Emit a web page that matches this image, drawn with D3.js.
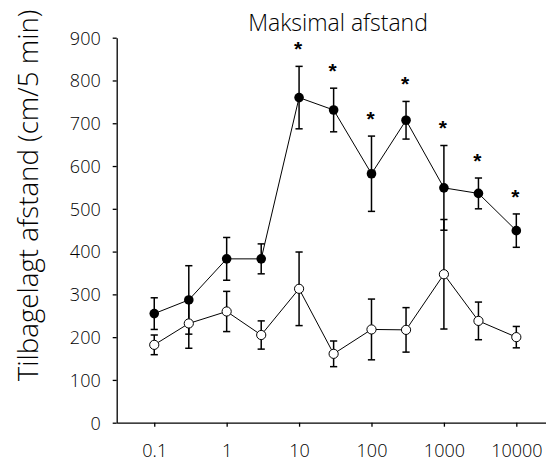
<!DOCTYPE html>
<html>
<head>
<meta charset="utf-8">
<script src="https://cdn.jsdelivr.net/npm/d3@7"></script>
<style>
  html, body { margin: 0; padding: 0; background: #fff; }
  svg { display: block; }
  text { font-family: "Open Sans", sans-serif; font-weight: 300; fill: #000; }
</style>
</head>
<body>
<svg id="chart" width="546" height="461"></svg>
<script>
// Dose levels (log scale)
const doses = [0.1, 0.3, 1, 3, 10, 30, 100, 300, 1000, 3000, 10000];

// Filled-circle series: mean and error
const filledMean = [255, 287, 383, 383, 760, 731, 582, 707, 549, 536, 449];
const filledErr  = [37, 80, 50, 35, 73, 51, 88, 44, 99, 36, 39];

// Open-circle series: mean and error
const openMean = [182, 232, 260, 205, 313, 161, 218, 217, 347, 238, 200];
const openErr  = [23, 58, 47, 33, 86, 30, 71, 52, 128, 44, 25];

// Significance markers (on the filled series)
const starred = [false, false, false, false, true, true, true, true, true, true, true];

const xTicks = [0.1, 1, 10, 100, 1000, 10000];
const yTicks = [0, 100, 200, 300, 400, 500, 600, 700, 800, 900];

const title = "Maksimal afstand";
const yLabel = "Tilbagelagt afstand (cm/5 min)";

const svg = d3.select("#chart");

const x = d3.scaleLog().domain([0.0303, 25700]).range([116.7, 546]);
const y = d3.scaleLinear().domain([0, 900]).range([422.7, 37.7]);

// Axes
const xAxis = d3.axisBottom(x).tickValues(xTicks).tickSize(4).tickSizeOuter(0)
  .tickFormat(d => String(d));
const yAxis = d3.axisLeft(y).tickValues(yTicks).tickSize(4).tickSizeOuter(0)
  .tickFormat(d => String(d));

const gx = svg.append("g").attr("transform", `translate(0,${y(0)})`).call(xAxis);
const gy = svg.append("g").attr("transform", `translate(${x.range()[0]},0)`).call(yAxis);

[gx, gy].forEach(g => {
  g.selectAll("path.domain").attr("stroke", "#000").attr("stroke-width", 1.3);
  g.selectAll(".tick line").attr("stroke", "#000").attr("stroke-width", 1.3);
  g.selectAll(".tick text")
    .style("font-family", "'Open Sans', sans-serif")
    .style("font-weight", 300)
    .style("font-size", "18px")
    .attr("fill", "#000");
});
gx.selectAll(".tick text").attr("dy", null).attr("y", 34);
gy.selectAll(".tick text").attr("x", -16).attr("dy", "0.35em");

// Title
svg.append("text")
  .attr("x", 338).attr("y", 31)
  .attr("text-anchor", "middle")
  .style("font-size", "23px")
  .text(title);

// Y label
svg.append("text")
  .attr("transform", `translate(38,195.5) rotate(-90)`)
  .attr("text-anchor", "middle")
  .style("font-size", "27.7px")
  .text(yLabel);

const rows = doses.map((d, i) => ({
  d, fm: filledMean[i], fe: filledErr[i], om: openMean[i], oe: openErr[i], star: starred[i]
}));

const capHalf = 3.6;

function errorBars(key, errKey) {
  const g = svg.append("g").attr("stroke", "#000").attr("stroke-width", 1.5).attr("fill", "none");
  rows.forEach(r => {
    const cx = x(r.d), top = y(r[key] + r[errKey]), bot = y(r[key] - r[errKey]);
    g.append("line").attr("x1", cx).attr("x2", cx).attr("y1", top).attr("y2", bot);
    g.append("line").attr("x1", cx - capHalf).attr("x2", cx + capHalf).attr("y1", top).attr("y2", top);
    g.append("line").attr("x1", cx - capHalf).attr("x2", cx + capHalf).attr("y1", bot).attr("y2", bot);
  });
}

errorBars("om", "oe");
errorBars("fm", "fe");

const line = key => d3.line().x(r => x(r.d)).y(r => y(r[key]));

svg.append("path").datum(rows).attr("d", line("om"))
  .attr("fill", "none").attr("stroke", "#000").attr("stroke-width", 1);
svg.append("path").datum(rows).attr("d", line("fm"))
  .attr("fill", "none").attr("stroke", "#000").attr("stroke-width", 1);

svg.append("g").selectAll("circle").data(rows).join("circle")
  .attr("cx", r => x(r.d)).attr("cy", r => y(r.om)).attr("r", 4.6)
  .attr("fill", "#fff").attr("stroke", "#000").attr("stroke-width", 1);

svg.append("g").selectAll("circle").data(rows).join("circle")
  .attr("cx", r => x(r.d)).attr("cy", r => y(r.fm)).attr("r", 4.8)
  .attr("fill", "#000");

// Significance asterisks, centred about 22px above each filled-series error bar
const starSize = 21;
svg.append("g").selectAll("text").data(rows.filter(r => r.star)).join("text")
  .attr("x", r => x(r.d) - 1)
  .attr("y", r => y(r.fm + r.fe) - 22 + 0.57 * starSize)
  .attr("text-anchor", "middle")
  .style("font-family", "'Liberation Sans', Arial, sans-serif")
  .style("font-weight", 700)
  .style("font-size", starSize + "px")
  .text("*");
</script>
</body>
</html>
